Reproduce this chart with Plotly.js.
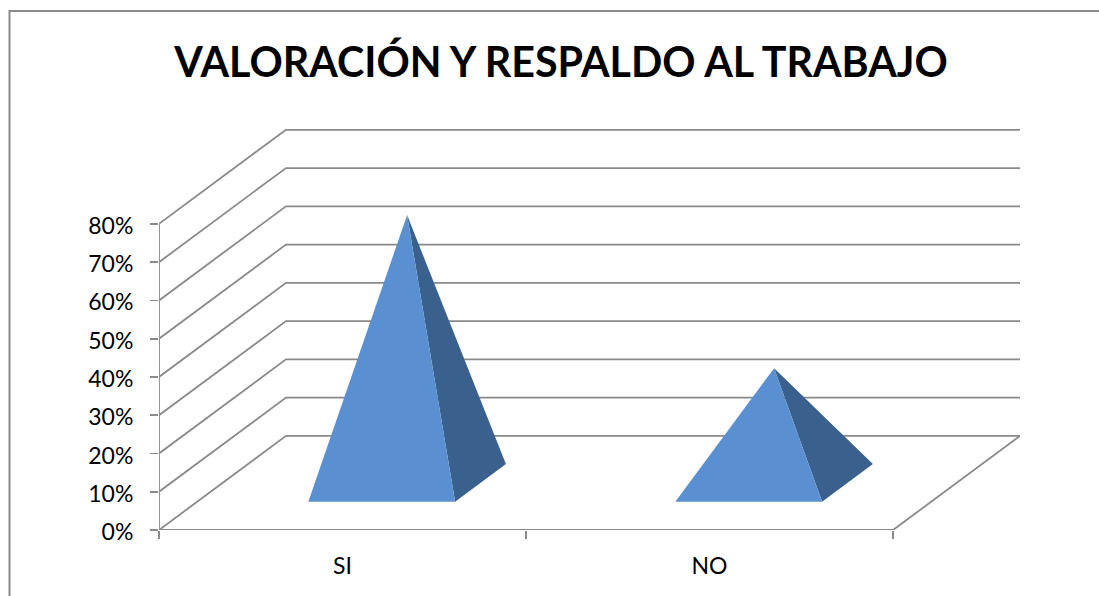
<!DOCTYPE html>
<html>
<head>
<meta charset="utf-8">
<script src="https://cdn.plot.ly/plotly-3.0.1.min.js"></script>
<style>html,body{margin:0;padding:0;background:#fff}#chart{width:1099px;height:596px}</style>
</head>
<body>
<div id="chart"></div>
<script>
const categories = ['SI', 'NO'];
const percentages = [70, 30];
const gridLevels = [0, 10, 20, 30, 40, 50, 60, 70, 80];
const chartTitle = 'VALORACIÓN Y RESPALDO AL TRABAJO';

// Oblique projection of the 3D box: how far the back wall sits from the front plane
const depthX = 0.346;   // in category units
const depthY = 24.6;    // in percentage points
const xMax = 2 + depthX;
const yMax = 104.8;

const lineColor = '#8a8a8a';
const lineWidth = 1.8;
const faceLight = '#5a90d1';
const faceDark = '#3a618e';

function project(x, depth, value) {
  return [x + depth * depthX, value + depth * depthY];
}

function polyTrace(points, color) {
  return {
    x: points.map(p => p[0]), y: points.map(p => p[1]),
    mode: 'lines', fill: 'toself', fillcolor: color,
    line: {width: 0, color: color}, hoverinfo: 'skip',
    showlegend: false, cliponaxis: false, xaxis: 'x', yaxis: 'y'
  };
}

// Wall lines: one per level, running back from the front plane and along the rear wall
const wallX = [], wallY = [];
gridLevels.forEach(v => {
  [project(0, 0, v), project(0, 1, v), [xMax, v + depthY]].forEach(p => {
    wallX.push(p[0]); wallY.push(p[1]);
  });
  wallX.push(null); wallY.push(null);
});
const wallTrace = {
  x: wallX, y: wallY, mode: 'lines', line: {color: lineColor, width: lineWidth},
  hoverinfo: 'skip', showlegend: false, cliponaxis: false, xaxis: 'x', yaxis: 'y'
};

// Floor edge and the vertical axis line of the front plane
const floorPts = [project(0, 0, 0), project(2, 0, 0), project(2, 1, 0)];
const floorTrace = {
  x: floorPts.map(p => p[0]), y: floorPts.map(p => p[1]),
  mode: 'lines', line: {color: lineColor, width: lineWidth},
  hoverinfo: 'skip', showlegend: false, cliponaxis: false, xaxis: 'x2', yaxis: 'y'
};
const valueAxisTrace = {
  x: [0, 0], y: [gridLevels[0], gridLevels[gridLevels.length - 1]],
  mode: 'lines', line: {color: lineColor, width: lineWidth},
  hoverinfo: 'skip', showlegend: false, cliponaxis: false, xaxis: 'x', yaxis: 'y'
};

// Each pyramid stands on a square base centred in its category slot
const baseHalf = 0.2, depthFront = 0.30, depthBack = 0.70, depthMid = 0.5;
const pyramids = [];
categories.forEach((name, i) => {
  const c = i + 0.503;
  const apex = project(c, depthMid, percentages[i]);
  const fl = project(c - baseHalf, depthFront, 0);
  const fr = project(c + baseHalf, depthFront, 0);
  const br = project(c + baseHalf, depthBack, 0);
  pyramids.push(polyTrace([fr, br, apex], faceDark));
  pyramids.push(polyTrace([fl, fr, apex], faceLight));
});

const W = 1099, H = 596;
const m = {l: 159, r: 79, t: 129, b: 66};
const paperX = px => (px - m.l) / (W - m.l - m.r);
const paperY = py => 1 - (py - m.t) / (H - m.t - m.b);

const axisFont = {family: 'Lato, Carlito, sans-serif', size: 23, color: '#000000'};

const layout = {
  width: W, height: H, margin: m,
  paper_bgcolor: '#ffffff', plot_bgcolor: 'rgba(0,0,0,0)',
  showlegend: false,
  title: {
    text: '<b>' + chartTitle + '</b>',
    font: {family: 'Lato, Carlito, sans-serif', size: 41.2, color: '#000000'},
    x: 561 / W, xanchor: 'center', y: 1 - 63 / H, yanchor: 'middle'
  },
  xaxis: {
    range: [0, xMax], tickmode: 'array', tickvals: [0.5, 1.5], ticktext: categories,
    ticks: '', showgrid: false, zeroline: false, showline: false,
    tickfont: axisFont, ticklabelstandoff: 20, fixedrange: true
  },
  xaxis2: {
    range: [0, xMax], overlaying: 'x', anchor: 'y', side: 'bottom',
    tickmode: 'array', tickvals: [0, 1, 2], ticks: 'outside', ticklen: 8, tickwidth: lineWidth,
    tickcolor: lineColor, showticklabels: false, showgrid: false, zeroline: false,
    showline: false, fixedrange: true
  },
  yaxis: {
    range: [0, yMax], tickmode: 'array', tickvals: gridLevels,
    ticktext: gridLevels.map(v => v + '%'),
    ticks: 'outside', ticklen: 8, tickwidth: lineWidth, tickcolor: lineColor,
    showgrid: false, zeroline: false, showline: false,
    tickfont: axisFont, ticklabelstandoff: 12, ticklabelshift: 2, fixedrange: true
  },
  shapes: [{
    type: 'path', xref: 'paper', yref: 'paper',
    path: `M ${paperX(9.5)} ${paperY(H)} L ${paperX(9.5)} ${paperY(11)} L ${paperX(W)} ${paperY(11)}`,
    line: {color: lineColor, width: 2}
  }]
};

Plotly.newPlot('chart', [wallTrace, floorTrace, valueAxisTrace].concat(pyramids), layout,
  {displayModeBar: false, staticPlot: true});
</script>
</body>
</html>
